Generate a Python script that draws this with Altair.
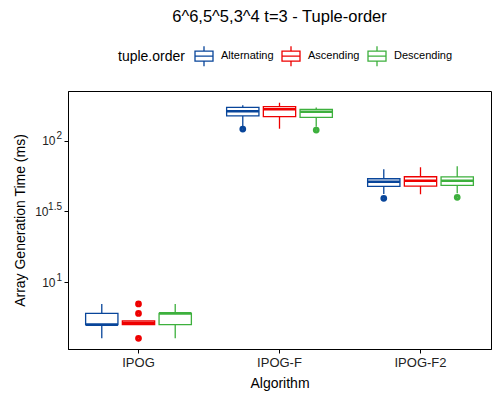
import altair as alt
import pandas as pd

# Box statistics (ms) per algorithm / tuple order
algorithms = ["IPOG", "IPOG", "IPOG", "IPOG-F", "IPOG-F", "IPOG-F", "IPOG-F2", "IPOG-F2", "IPOG-F2"]
orders = ["Alternating", "Ascending", "Descending"] * 3
lower = [4, 5, 4, 127, 121.6, 125.7, 42, 41.8, 42.5]
q1 = [5, 5, 5, 149.7, 148, 146.5, 47.6, 47.8, 48.3]
median = [5, 5.1, 6, 161.5, 166.8, 160.3, 51.3, 52.1, 52.1]
q3 = [6, 5.3, 6, 172, 174, 166.8, 53.8, 55.6, 55.4]
upper = [7, 5.3, 7, 178, 185.7, 172, 62.8, 64.9, 65.9]

# Outliers
out_algorithm = ["IPOG", "IPOG", "IPOG", "IPOG-F", "IPOG-F", "IPOG-F2", "IPOG-F2"]
out_order = ["Ascending", "Ascending", "Ascending", "Alternating", "Descending", "Alternating", "Descending"]
out_value = [7.0, 6.0, 4.0, 121.0, 119.0, 39.1, 39.8]

order_domain = ["Alternating", "Ascending", "Descending"]
order_colors = ["#08459A", "#EE0000", "#3DB03D"]
algo_domain = ["IPOG", "IPOG-F", "IPOG-F2"]
y_ticks = [10, 31.6228, 100]
y_exponents = ["1", "1.5", "2"]

df = pd.DataFrame({"algorithm": algorithms, "order": orders, "lower": lower,
                   "q1": q1, "median": median, "q3": q3, "upper": upper})
odf = pd.DataFrame({"algorithm": out_algorithm, "order": out_order, "value": out_value})
edf = pd.DataFrame({"tick": y_ticks, "exp": y_exponents})

yscale = alt.Scale(type="log", domain=[3.36, 224.8], nice=False)
xenc = alt.X("algorithm:N", sort=algo_domain,
             scale=alt.Scale(domain=algo_domain, paddingInner=0.25, paddingOuter=0.125),
             axis=alt.Axis(title="Algorithm", labelAngle=0, labelFontSize=13, titleFontSize=14,
                           titleFontWeight="normal", labelColor="#222", titleColor="#000",
                           domainColor="#000", tickColor="#000", tickSize=4, labelPadding=3,
                           titlePadding=7))
xoff = alt.XOffset("order:N", sort=order_domain, scale=alt.Scale(domain=order_domain, paddingInner=0.12))

box_path = "M-0.9,-0.5H0.9V0.5H-0.9Z M-0.9,0H0.9 M0,-0.5V-1 M0,0.5V1"
color_scale = alt.Scale(domain=order_domain, range=order_colors)
stroke = alt.Stroke("order:N", sort=order_domain, scale=color_scale,
                    legend=alt.Legend(title="tuple.order", orient="none", legendX=50, legendY=-46,
                                      direction="horizontal", titleOrient="left",
                                      symbolType=box_path, symbolSize=400, symbolStrokeWidth=1.3,
                                      symbolFillColor="transparent",
                                      labelFontSize=11, titleFontSize=14, titleFontWeight="normal",
                                      columnPadding=5, labelOffset=6, titlePadding=8,
                                      labelColor="#000", titleColor="#000"))

yaxis = alt.Axis(title="Array Generation Time (ms)", values=y_ticks, grid=False,
                 labelExpr="'10'",
                 labelPadding={"condition": {"test": "datum.value > 20 && datum.value < 50", "value": 16},
                               "value": 9},
                 labelFontSize=12, titleFontSize=14, titleFontWeight="normal",
                 labelColor="#222", titleColor="#000", domainColor="#000", tickColor="#000",
                 tickSize=4, titlePadding=7)

base = alt.Chart(df).encode(x=xenc, xOffset=xoff, stroke=stroke)

box = base.mark_bar(filled=False, strokeWidth=1.3).encode(
    y=alt.Y("q1:Q", scale=yscale, axis=yaxis), y2="q3:Q")
whisk_lo = base.mark_rule(strokeWidth=1.3).encode(
    y=alt.Y("lower:Q", scale=yscale), y2="q1:Q")
whisk_hi = base.mark_rule(strokeWidth=1.3).encode(
    y=alt.Y("q3:Q", scale=yscale), y2="upper:Q")
med = base.mark_bar(filled=False, strokeWidth=2.6).encode(
    y=alt.Y("median:Q", scale=yscale), y2="median:Q")
outl = alt.Chart(odf).mark_point(shape="circle", filled=False, size=10, strokeWidth=3.6,
                                 opacity=1).encode(
    x=xenc, xOffset=xoff, stroke=stroke, y=alt.Y("value:Q", scale=yscale))
exps = alt.Chart(edf).mark_text(align="right", baseline="middle", dy=-4.5, fontSize=10,
                                color="#222").encode(
    y=alt.Y("tick:Q", scale=yscale), x=alt.value(-6), text="exp:N")

chart = alt.layer(box, whisk_lo, whisk_hi, med, outl, exps).properties(
    width=423, height=258,
    title=alt.TitleParams("6^6,5^5,3^4 t=3 - Tuple-order", fontSize=16.5, fontWeight="normal",
                          anchor="middle", color="#000", dy=-16),
    autosize=alt.AutoSizeParams(type="none"),
    padding={"left": 60, "top": 83, "right": 1, "bottom": 42},
).configure(font="Liberation Sans").configure_view(stroke="#000", strokeWidth=1)

chart.save("out.html", embed_options={"renderer": "svg", "actions": False})
